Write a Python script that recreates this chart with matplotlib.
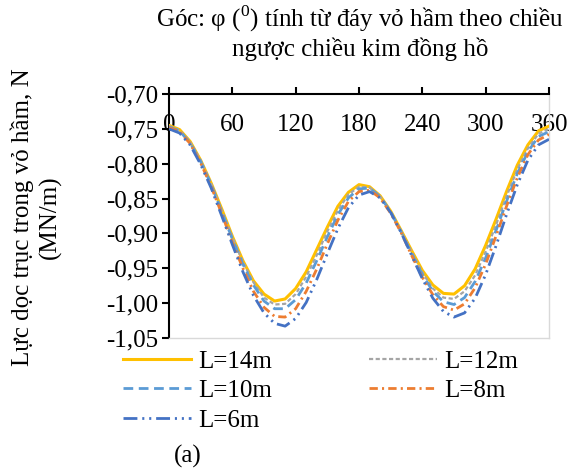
import matplotlib
matplotlib.use("Agg")
import matplotlib.pyplot as plt

plt.rcParams['font.family'] = ['Liberation Serif', 'DejaVu Serif']
plt.rcParams['mathtext.fontset'] = 'custom'
plt.rcParams['mathtext.rm'] = 'Liberation Serif'
plt.rcParams['lines.scale_dashes'] = False

angles = [0, 10, 20, 30, 40, 50, 60, 70, 80, 90, 100, 110, 120, 130, 140, 150, 160, 170, 180,
          190, 200, 210, 220, 230, 240, 250, 260, 270, 280, 290, 300, 310, 320, 330, 340, 350, 360]

L14 = [-0.745, -0.751, -0.768, -0.795, -0.828, -0.865, -0.904, -0.939, -0.968, -0.987, -0.997,
       -0.994, -0.979, -0.955, -0.923, -0.891, -0.861, -0.841, -0.830,
       -0.833, -0.846, -0.868, -0.896, -0.925, -0.953, -0.974, -0.986,
       -0.987, -0.975, -0.951, -0.917, -0.879, -0.839, -0.802, -0.773, -0.753, -0.746]
L12 = [-0.746, -0.752, -0.769, -0.795, -0.829, -0.867, -0.905, -0.941, -0.970, -0.992, -1.002,
       -1.001, -0.987, -0.962, -0.931, -0.897, -0.867, -0.844, -0.833,
       -0.834, -0.847, -0.869, -0.897, -0.927, -0.956, -0.979, -0.992,
       -0.994, -0.983, -0.960, -0.926, -0.887, -0.846, -0.808, -0.778, -0.757, -0.750]
L10 = [-0.747, -0.753, -0.770, -0.797, -0.830, -0.869, -0.908, -0.944, -0.974, -0.997, -1.008,
       -1.008, -0.995, -0.971, -0.939, -0.905, -0.873, -0.849, -0.836,
       -0.835, -0.847, -0.869, -0.898, -0.929, -0.959, -0.983, -0.998,
       -1.002, -0.992, -0.969, -0.935, -0.895, -0.853, -0.814, -0.783, -0.761, -0.754]
L8 = [-0.748, -0.754, -0.771, -0.799, -0.833, -0.872, -0.913, -0.950, -0.983, -1.006, -1.019,
      -1.020, -1.008, -0.983, -0.951, -0.915, -0.881, -0.854, -0.840,
      -0.838, -0.849, -0.871, -0.899, -0.932, -0.963, -0.988, -1.005,
      -1.010, -1.001, -0.978, -0.944, -0.903, -0.860, -0.820, -0.787, -0.766, -0.758]
L6 = [-0.750, -0.756, -0.773, -0.801, -0.835, -0.875, -0.916, -0.955, -0.989, -1.014, -1.029,
      -1.033, -1.022, -0.999, -0.966, -0.929, -0.893, -0.863, -0.845,
      -0.840, -0.849, -0.870, -0.899, -0.932, -0.965, -0.993, -1.012,
      -1.020, -1.014, -0.993, -0.959, -0.917, -0.872, -0.830, -0.795, -0.773, -0.765]

series_names = ['L=14m', 'L=12m', 'L=10m', 'L=8m', 'L=6m']
xticks = [0, 60, 120, 180, 240, 300, 360]
yticks = [-1.05, -1.00, -0.95, -0.90, -0.85, -0.80, -0.75, -0.70]
ytick_labels = ['-1,05', '-1,00', '-0,95', '-0,90', '-0,85', '-0,80', '-0,75', '-0,70']

FS = 18
W, H = 578, 473
fig = plt.figure(figsize=(W / 100, H / 100), dpi=100)
ax = fig.add_axes([169 / W, 1 - 338 / H, (549 - 169) / W, (338 - 94) / H])

styles = [
    dict(color='#FFC000', linestyle='-', lw=2.2),
    dict(color='#A5A5A5', linestyle=(0, (3, 1.8)), lw=1.6),
    dict(color='#5B9BD5', linestyle=(0, (7, 4)), lw=2.0),
    dict(color='#ED7D31', linestyle=(0, (6, 3, 1.5, 3)), lw=2.0),
    dict(color='#4472C4', linestyle=(0, (10, 3.5, 1.5, 3.5, 1.5, 3.5)), lw=2.0),
]
data = [L14, L12, L10, L8, L6]
handles = []
for name, vals, st in zip(series_names, data, styles):
    h, = ax.plot(angles, vals, label=name, zorder=3, **st)
    handles.append(h)

ax.set_xlim(0, 360)
ax.set_ylim(-1.05, -0.70)
ax.set_xticks(xticks)
ax.set_xticklabels([str(v) for v in xticks])
ax.set_yticks(yticks)
ax.set_yticklabels(ytick_labels)

for s in ['right', 'bottom']:
    ax.spines[s].set_color('#D9D9D9')
    ax.spines[s].set_linewidth(1.0)
for s in ['top', 'left']:
    ax.spines[s].set_color('black')
    ax.spines[s].set_linewidth(1.5)

ax.tick_params(axis='x', which='both', bottom=False, top=True, labelbottom=False,
               labeltop=True, direction='out', length=5, width=1.5, pad=-35,
               labelsize=FS)
ax.tick_params(axis='y', which='both', left=True, right=False, direction='out',
               length=5, width=1.5, pad=3, labelsize=FS)
for lbl in ax.get_xticklabels():
    lbl.set_zorder(1)

fig.text(360 / W, 1 - 32 / H,
         "Góc: φ ($^{0}$) tính từ đáy vỏ hầm theo chiều\nngược chiều kim đồng hồ",
         ha='center', va='center', fontsize=FS, linespacing=1.2)

fig.text(36 / W, 1 - 217 / H, "Lực dọc trục trong vỏ hầm, N\n(MN/m)",
         rotation=90, ha='center', va='center', multialignment='center',
         fontsize=FS, linespacing=1.25)

order = [0, 2, 4, 1, 3]
leg = fig.legend([handles[i] for i in order], [series_names[i] for i in order],
                 loc='upper left', bbox_to_anchor=(123 / W, 1 - 350 / H), ncol=2,
                 frameon=False, fontsize=FS, handlelength=2.7, handletextpad=0.3,
                 columnspacing=3.9, labelspacing=0.28, borderpad=0, borderaxespad=0)

fig.text(188 / W, 1 - 456 / H, "(a)", ha='center', va='center', fontsize=FS)

fig.savefig('out.png', dpi=100)
